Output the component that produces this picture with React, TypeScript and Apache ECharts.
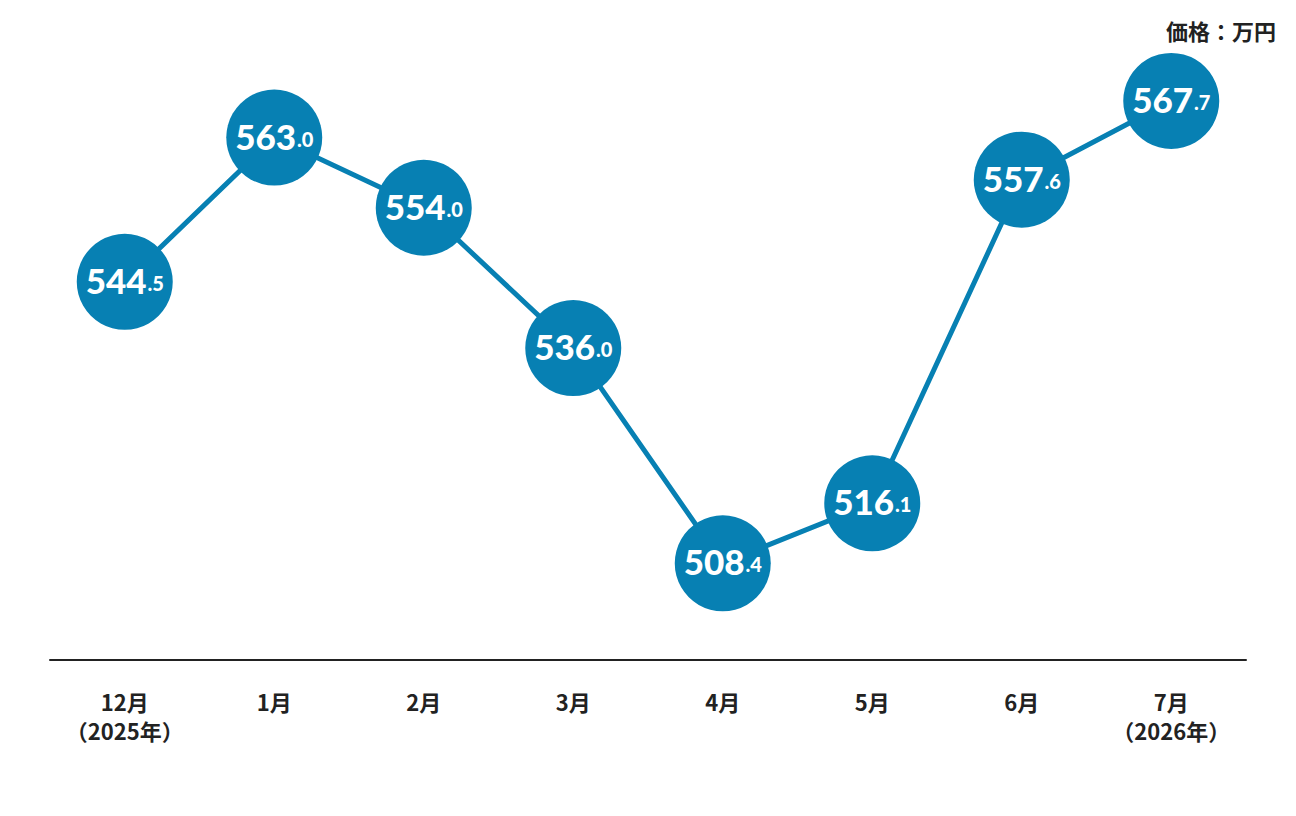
import React, { useEffect, useRef } from "react";
import * as echarts from "echarts";

const categories = ["12月\n（2025年）", "1月", "2月", "3月", "4月", "5月", "6月", "7月\n（2026年）"];
const prices = [544.5, 563.0, 554.0, 536.0, 508.4, 516.1, 557.6, 567.7];
const unitLabel = "価格：万円";

const BLUE = "#0780b3";

export default function App() {
  const ref = useRef<HTMLDivElement>(null);
  useEffect(() => {
    if (!ref.current) return;
    const chart = echarts.init(ref.current, undefined, { renderer: "svg" });
    chart.setOption({
      animation: false,
      backgroundColor: "#ffffff",
      graphic: [
        {
          type: "text",
          right: 20,
          top: 19,
          style: {
            text: unitLabel,
            font: "bold 22px 'Noto Sans CJK JP'",
            fill: "#222222",
          },
        },
      ],
      grid: { left: 50, right: 50, top: 44, bottom: 156 },
      xAxis: {
        type: "category",
        data: categories,
        boundaryGap: true,
        axisLine: { show: true, lineStyle: { color: "#222222", width: 2 } },
        axisTick: { show: false },
        axisLabel: {
          interval: 0,
          hideOverlap: false,
          margin: 26,
          color: "#222222",
          fontFamily: "Noto Sans CJK JP",
          fontWeight: "bold",
          fontSize: 22,
          lineHeight: 29,
          verticalAlign: "top",
        },
      },
      yAxis: {
        type: "value",
        min: 496,
        max: 575,
        show: false,
        splitLine: { show: false },
      },
      series: [
        {
          type: "line",
          data: prices,
          symbol: "circle",
          symbolSize: 96,
          lineStyle: { color: BLUE, width: 5 },
          itemStyle: { color: BLUE },
          z: 2,
          label: {
            show: true,
            position: "inside",
            offset: [0, -2],
            formatter: (p: any) => {
              const s = Number(p.value).toFixed(1);
              const [a, b] = s.split(".");
              return `{i|${a}}{d|.${b}}`;
            },
            rich: {
              i: {
                fontFamily: "Lato",
                fontWeight: 900,
                fontSize: 35,
                color: "#ffffff",
              },
              d: {
                fontFamily: "Lato",
                fontWeight: 900,
                fontSize: 20,
                color: "#ffffff",
                padding: [6, 0, 0, 1],
              },
            },
          },
        },
      ],
    });
    return () => chart.dispose();
  }, []);
  return (
    <div
      ref={ref}
      style={{ position: "fixed", left: 0, top: 0, width: 1296, height: 816 }}
    />
  );
}
